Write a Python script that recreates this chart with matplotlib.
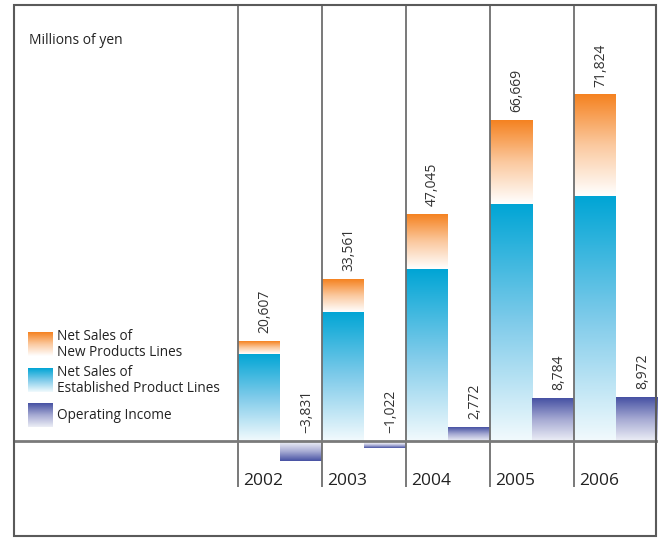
import matplotlib.pyplot as plt
import numpy as np
from matplotlib.colors import LinearSegmentedColormap
from matplotlib.patches import Rectangle

plt.rcParams['font.family'] = ['Open Sans', 'DejaVu Sans']

years = ['2002', '2003', '2004', '2005', '2006']
total_sales = [20607, 33561, 47045, 66669, 71824]        # new + established
established_sales = [18060, 26800, 35700, 49250, 50850]
operating_income = [-3831, -1022, 2772, 8784, 8972]
label_total = ['20,607', '33,561', '47,045', '66,669', '71,824']
label_income = ['\u22123,831', '\u22121,022', '2,772', '8,784', '8,972']

new_sales = [t - e for t, e in zip(total_sales, established_sales)]

W, H = 660, 539
fig = plt.figure(figsize=(W / 100, H / 100), dpi=100)
ax = fig.add_axes([0, 0, 1, 1])
ax.set_axis_off()

# pixel layout: columns 84px wide starting at x=238, zero line at y=441
col0, colw = 238, 84
base_y = 441
k = 346 / 71824  # pixels per million yen
ax.set_xlim(-col0 / colw, (W - col0) / colw)
ax.set_ylim(-(H - base_y) / k, base_y / k)

orange = LinearSegmentedColormap.from_list('o', ['#ffffff', '#fbc99f', '#f58220'])
cyan = LinearSegmentedColormap.from_list('c', ['#f2fafd', '#7fcbea', '#00a5d5'])
purple = LinearSegmentedColormap.from_list('p', ['#eceef6', '#a6aad3', '#4651a3'])
grad = np.linspace(0, 1, 256).reshape(-1, 1)


def gradient_bar(x0, x1, y0, y1, cmap):
    # dark end sits at y1 (far end from the start of the bar)
    g = grad if y1 >= y0 else grad[::-1]
    ax.imshow(g, extent=[x0, x1, min(y0, y1), max(y0, y1)], origin='lower',
              aspect='auto', cmap=cmap, interpolation='bilinear', zorder=2)


gap = 2 / k  # small gap below the zero line for negative bars
for i in range(len(years)):
    gradient_bar(i, i + 0.5, 0, established_sales[i], cyan)
    gradient_bar(i, i + 0.5, established_sales[i], total_sales[i], orange)
    oi = operating_income[i]
    if oi >= 0:
        gradient_bar(i + 0.5, i + 1.0, 0, oi, purple)
    else:
        gradient_bar(i + 0.5, i + 1.0, -gap, oi - gap, purple)

    ax.annotate(label_total[i], (i + 0.25, total_sales[i]), xytext=(4, 6),
                textcoords='offset points', rotation=90, ha='center', va='bottom',
                fontsize=10, color='#333333', zorder=4)
    ax.annotate(label_income[i], (i + 0.75, max(oi, 0)), xytext=(4, 6),
                textcoords='offset points', rotation=90, ha='center', va='bottom',
                fontsize=10, color='#333333', zorder=4)

    ax.text(i + 5 / colw, 1 - 481 / H, years[i], transform=ax.get_xaxis_transform(),
            ha='left', va='center', fontsize=12.5, color='#222222')

# column dividers and zero line
xt = ax.get_xaxis_transform()
ax.vlines(range(len(years)), 1 - 487 / H, 1 - 5 / H, transform=xt,
          color='#6e6e6e', lw=1.3, zorder=3)
ax.axhline(0, xmin=14 / W, xmax=656 / W, color='#7a7a7a', lw=2, zorder=3)

# outer frame
fig.patches.append(Rectangle((13.5 / W, 1 - 536 / H), (656 - 13.5) / W, (536 - 5) / H,
                             transform=fig.transFigure, fill=False,
                             edgecolor='#5a5a5a', lw=1.5))

fig.text(29 / W, 1 - 41 / H, 'Millions of yen', ha='left', va='center',
         fontsize=10, color='#222222')

# legend swatches
legend_items = [('Net Sales of\nNew Products Lines', orange, 332),
                ('Net Sales of\nEstablished Product Lines', cyan, 368),
                ('Operating Income', purple, 403)]
for text, cmap, top in legend_items:
    sw = fig.add_axes([27.5 / W, 1 - (top + 24) / H, 24.5 / W, 24 / H])
    sw.imshow(grad, origin='lower', aspect='auto', cmap=cmap, extent=[0, 1, 0, 1])
    sw.set_axis_off()
    fig.text(57 / W, 1 - (top + 12.5) / H, text, ha='left', va='center',
             fontsize=9.8, color='#222222', linespacing=1.1)

fig.savefig('out.png', dpi=100)
